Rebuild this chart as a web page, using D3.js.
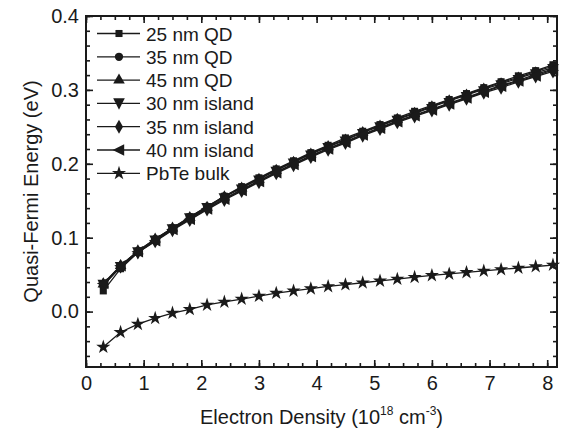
<!DOCTYPE html>
<html>
<head>
<meta charset="utf-8">
<script src="https://cdn.jsdelivr.net/npm/d3@7"></script>
<style>
  html, body { margin: 0; padding: 0; background: #fff; }
  svg { display: block; font-family: "Liberation Sans", Arial, sans-serif; }
</style>
</head>
<body>
<svg id="chart" width="566" height="434"></svg>
<script>
// Electron density (10^18 cm^-3)
const density = [0.3,0.6,0.9,1.2,1.5,1.8,2.1,2.4,2.7,3.0,3.3,3.6,3.9,4.2,4.5,4.8,5.1,5.4,5.7,6.0,6.3,6.6,6.9,7.2,7.5,7.8,8.1];

// Quasi-Fermi energy (eV) for each structure
const qd25 = [0.028,0.058,0.080,0.097,0.113,0.128,0.142,0.156,0.169,0.181,0.193,0.204,0.215,0.225,0.235,0.244,0.253,0.262,0.271,0.279,0.287,0.295,0.303,0.311,0.319,0.326,0.334];
const qd35 = [0.035,0.062,0.082,0.098,0.113,0.128,0.142,0.156,0.168,0.180,0.192,0.203,0.214,0.224,0.233,0.243,0.252,0.261,0.269,0.278,0.286,0.294,0.302,0.310,0.317,0.325,0.332];
const qd45 = [0.037,0.062,0.082,0.098,0.113,0.127,0.141,0.155,0.167,0.179,0.191,0.202,0.213,0.223,0.232,0.242,0.251,0.260,0.268,0.277,0.285,0.293,0.301,0.308,0.316,0.323,0.330];
const island30 = [0.036,0.060,0.080,0.096,0.111,0.126,0.140,0.153,0.165,0.177,0.189,0.200,0.211,0.221,0.230,0.240,0.249,0.258,0.266,0.274,0.282,0.290,0.298,0.306,0.313,0.321,0.328];
const island35 = [0.037,0.061,0.080,0.095,0.110,0.124,0.138,0.151,0.163,0.175,0.187,0.198,0.209,0.219,0.228,0.238,0.247,0.256,0.264,0.272,0.280,0.288,0.296,0.303,0.311,0.318,0.325];
const island40 = [0.038,0.062,0.081,0.096,0.111,0.125,0.139,0.152,0.164,0.176,0.188,0.199,0.210,0.220,0.229,0.239,0.248,0.257,0.265,0.273,0.281,0.289,0.297,0.305,0.312,0.319,0.327];
const bulk = [-0.048,-0.028,-0.017,-0.009,-0.002,0.003,0.009,0.013,0.017,0.021,0.025,0.028,0.031,0.034,0.0365,0.039,0.0415,0.044,0.0465,0.049,0.051,0.053,0.055,0.057,0.059,0.061,0.063];

const seriesNames = ["25 nm QD","35 nm QD","45 nm QD","30 nm island","35 nm island","40 nm island","PbTe bulk"];
const seriesValues = [qd25, qd35, qd45, island30, island35, island40, bulk];

const xTicks = [0,1,2,3,4,5,6,7,8];
const yTicks = [0.0,0.1,0.2,0.3,0.4];

const ink = "#1a1a1a";
const margin = {left: 86, right: 566 - 557, top: 16, bottom: 434 - 367};
const W = 566, H = 434;

const svg = d3.select("#chart");

const x = d3.scaleLinear().domain([0, 8.17]).range([margin.left, W - margin.right]);
const y = d3.scaleLinear().domain([-0.075, 0.4]).range([H - margin.bottom, margin.top]);

// marker shapes for each series
const triLeft = {
  draw(ctx, size) {
    const h = Math.sqrt(size * 4 / Math.sqrt(3));
    ctx.moveTo(-h * 0.55, 0);
    ctx.lineTo(h * 0.45, -h / 2);
    ctx.lineTo(h * 0.45, h / 2);
    ctx.closePath();
  }
};
const triDown = {
  draw(ctx, size) {
    const h = Math.sqrt(size * 4 / Math.sqrt(3));
    ctx.moveTo(0, h * 0.55);
    ctx.lineTo(h / 2, -h * 0.45);
    ctx.lineTo(-h / 2, -h * 0.45);
    ctx.closePath();
  }
};
const shapes = [
  d3.symbol(d3.symbolSquare, 50),
  d3.symbol(d3.symbolCircle, 54),
  d3.symbol(d3.symbolTriangle, 58),
  d3.symbol(triDown, 58),
  d3.symbol(d3.symbolDiamond, 56),
  d3.symbol(triLeft, 58),
  d3.symbol(d3.symbolStar, 62)
];

const plot = svg.append("g");
const line = d3.line().x((d, i) => x(density[i])).y(d => y(d));

seriesValues.forEach((vals, s) => {
  plot.append("path")
    .attr("d", line(vals))
    .attr("fill", "none")
    .attr("stroke", ink)
    .attr("stroke-width", 1.3);
});
seriesValues.forEach((vals, s) => {
  plot.selectAll(null).data(vals).enter().append("path")
    .attr("d", shapes[s])
    .attr("transform", (d, i) => `translate(${x(density[i])},${y(d)})`)
    .attr("fill", ink);
});

// axes with inward ticks on all four sides
function styleAxis(g) {
  g.select(".domain").remove();
  g.selectAll("line").attr("stroke", ink).attr("stroke-width", 1.6);
  g.selectAll("text").attr("fill", ink).attr("font-size", 20);
}
const xMinor = d3.range(0, 8.2, 0.25);
const yMinor = d3.range(-0.06, 0.401, 0.02);

svg.append("g").attr("transform", `translate(0,${H - margin.bottom})`)
  .call(d3.axisBottom(x).tickValues(xMinor).tickSize(-4).tickFormat(""))
  .call(styleAxis);
svg.append("g").attr("transform", `translate(0,${H - margin.bottom})`)
  .call(d3.axisBottom(x).tickValues(xTicks).tickSize(-7).tickPadding(9).tickFormat(d3.format("d")))
  .call(styleAxis);
svg.append("g").attr("transform", `translate(0,${margin.top})`)
  .call(d3.axisTop(x).tickValues(xMinor).tickSize(-4).tickFormat(""))
  .call(styleAxis);
svg.append("g").attr("transform", `translate(0,${margin.top})`)
  .call(d3.axisTop(x).tickValues(xTicks).tickSize(-7).tickFormat(""))
  .call(styleAxis);

svg.append("g").attr("transform", `translate(${margin.left},0)`)
  .call(d3.axisLeft(y).tickValues(yMinor).tickSize(-4).tickFormat(""))
  .call(styleAxis);
svg.append("g").attr("transform", `translate(${margin.left},0)`)
  .call(d3.axisLeft(y).tickValues(yTicks).tickSize(-7).tickPadding(7).tickFormat(d3.format(".1f")))
  .call(styleAxis);
svg.append("g").attr("transform", `translate(${W - margin.right},0)`)
  .call(d3.axisRight(y).tickValues(yMinor).tickSize(-4).tickFormat(""))
  .call(styleAxis);
svg.append("g").attr("transform", `translate(${W - margin.right},0)`)
  .call(d3.axisRight(y).tickValues(yTicks).tickSize(-7).tickFormat(""))
  .call(styleAxis);

// frame
svg.append("rect")
  .attr("x", margin.left).attr("y", margin.top)
  .attr("width", W - margin.right - margin.left)
  .attr("height", H - margin.bottom - margin.top)
  .attr("fill", "none").attr("stroke", ink).attr("stroke-width", 2);

// axis titles
svg.append("text")
  .attr("transform", `translate(38,${(margin.top + H - margin.bottom) / 2}) rotate(-90)`)
  .attr("text-anchor", "middle").attr("font-size", 20).attr("fill", ink)
  .text("Quasi-Fermi Energy (eV)");

const xt = svg.append("text")
  .attr("x", (margin.left + W - margin.right) / 2).attr("y", 424)
  .attr("text-anchor", "middle").attr("font-size", 20).attr("fill", ink);
xt.append("tspan").text("Electron Density (10");
xt.append("tspan").attr("font-size", 12).attr("dy", -9).text("18");
xt.append("tspan").attr("dy", 9).text(" cm");
xt.append("tspan").attr("font-size", 12).attr("dy", -9).text("-3");
xt.append("tspan").attr("dy", 9).text(")");

// legend
const legend = svg.append("g");
seriesNames.forEach((name, s) => {
  const ly = 33.5 + s * 23.3;
  legend.append("line").attr("x1", 97).attr("x2", 140).attr("y1", ly).attr("y2", ly)
    .attr("stroke", ink).attr("stroke-width", 1.3);
  legend.append("path").attr("d", shapes[s]).attr("transform", `translate(119,${ly})`).attr("fill", ink);
  legend.append("text").attr("x", 146).attr("y", ly + 7)
    .attr("font-size", 19).attr("fill", ink).text(name);
});
</script>
</body>
</html>
